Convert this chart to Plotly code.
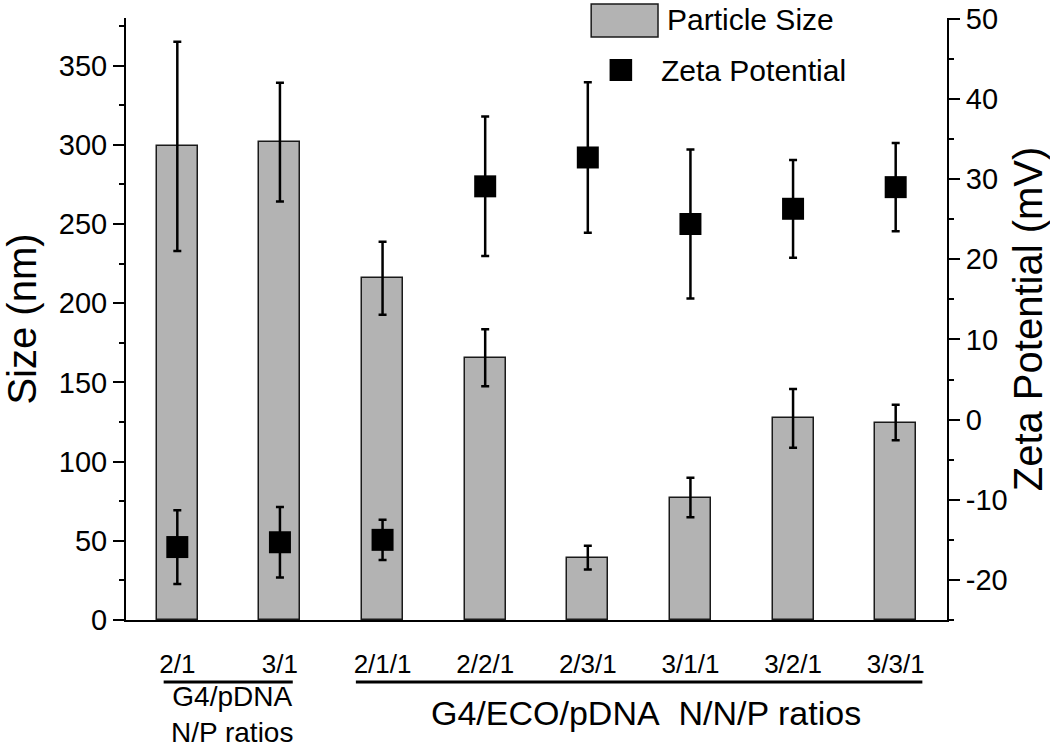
import plotly.graph_objects as go

categories = ["2/1", "3/1", "2/1/1", "2/2/1", "2/3/1", "3/1/1", "3/2/1", "3/3/1"]
size_nm = [299.0, 301.7, 215.7, 165.5, 39.4, 77.3, 127.3, 124.6]
size_err = [66.0, 37.5, 23.0, 18.0, 7.5, 12.5, 18.5, 11.2]
zeta_mv = [-15.9, -15.3, -15.0, 29.1, 32.7, 24.4, 26.3, 29.0]
zeta_err = [4.6, 4.4, 2.5, 8.7, 9.4, 9.3, 6.1, 5.5]

size_ticks = [0, 50, 100, 150, 200, 250, 300, 350]
zeta_ticks = [-20, -10, 0, 10, 20, 30, 40, 50]
zeta_ticklabels = ["-20", "-10", "0", "10", "20", "30", "40", "50"]

FONT = "Liberation Sans, Arial, sans-serif"

fig = go.Figure()
fig.add_trace(go.Bar(
    x=categories, y=size_nm, name="Particle Size",
    width=0.4,
    marker=dict(color="#b3b3b3", line=dict(color="#1a1a1a", width=1.5)),
    error_y=dict(type="data", array=size_err, visible=True,
                 color="black", thickness=2.5, width=4),
    showlegend=False, yaxis="y",
))
fig.add_trace(go.Scatter(
    x=categories, y=zeta_mv, name="Zeta Potential", mode="markers",
    marker=dict(symbol="square", size=22, color="black"),
    error_y=dict(type="data", array=zeta_err, visible=True,
                 color="black", thickness=2.5, width=4),
    showlegend=False, yaxis="y2",
))

axis_common = dict(showline=True, linecolor="black", linewidth=2,
                   showgrid=False, zeroline=False, ticks="outside",
                   tickcolor="black", tickwidth=2, ticklen=11, automargin=False,
                   ticklabeloverflow="allow",
                   tickfont=dict(family=FONT, size=29, color="black"))

fig.update_layout(
    width=1050, height=751,
    margin=dict(l=126, r=103, t=18, b=131),
    paper_bgcolor="white", plot_bgcolor="white",
    bargap=0,
    xaxis=dict(showline=True, linecolor="black", linewidth=2, showgrid=False,
               ticks="", range=[-0.5, 7.5], automargin=False,
               tickfont=dict(family=FONT, size=26, color="black"),
               ticklabelstandoff=20),
    yaxis=dict(range=[0, 380], tickvals=size_ticks,
               minor=dict(ticks="outside", ticklen=5, dtick=25, tickwidth=2, tickcolor="black"),
               title=dict(text="Size (nm)", font=dict(family=FONT, size=40, color="black"), standoff=14),
               **axis_common),
    yaxis2=dict(range=[-25, 50.1], tickvals=zeta_ticks, ticktext=zeta_ticklabels,
                overlaying="y", side="right",
                minor=dict(ticks="outside", ticklen=5, dtick=5, tickwidth=2, tickcolor="black"),
                title=dict(text="Zeta Potential (mV)", font=dict(family=FONT, size=40, color="black"), standoff=2),
                **axis_common),
)

# legend (drawn manually to match the large swatches)
fig.add_shape(type="rect", xref="paper", yref="paper",
              x0=0.5666, x1=0.648, y0=0.9684, y1=1.0233,
              fillcolor="#b3b3b3", line=dict(color="#1a1a1a", width=1.5))
fig.add_annotation(xref="paper", yref="paper", x=0.657, y=1.0282, text="Particle Size",
                   showarrow=False, xanchor="left", yanchor="top",
                   font=dict(family=FONT, size=30, color="black"))
fig.add_shape(type="rect", xref="paper", yref="paper",
              x0=0.589, x1=0.6165, y0=0.8953, y1=0.9319,
              fillcolor="black", line=dict(color="black", width=0))
fig.add_annotation(xref="paper", yref="paper", x=0.649, y=0.9136, text="Zeta Potential",
                   showarrow=False, xanchor="left", yanchor="middle",
                   font=dict(family=FONT, size=30, color="black"))

# group brackets below the category axis
fig.add_shape(type="line", xref="x", yref="paper", x0=-0.133, x1=1.125, y0=-0.103, y1=-0.103,
              line=dict(color="black", width=3))
fig.add_shape(type="line", xref="x", yref="paper", x0=1.74, x1=7.26, y0=-0.103, y1=-0.103,
              line=dict(color="black", width=3))
fig.add_annotation(xref="x", yref="paper", x=0.53, y=-0.2165, text="G4/pDNA<br>N/P ratios",
                   showarrow=False, yanchor="bottom", align="center",
                   font=dict(family=FONT, size=28, color="black"))
fig.add_annotation(xref="x", yref="paper", x=4.57, y=-0.1545,
                   text="G4/ECO/pDNA\u00a0\u00a0N/N/P ratios",
                   showarrow=False, yanchor="middle",
                   font=dict(family=FONT, size=34, color="black"))

# remove the default 8px body margin so the figure fills the window exactly
fig.write_html("out.html", config={"displayModeBar": False},
               post_script="document.body.style.margin='0';document.body.style.overflow='hidden';")
